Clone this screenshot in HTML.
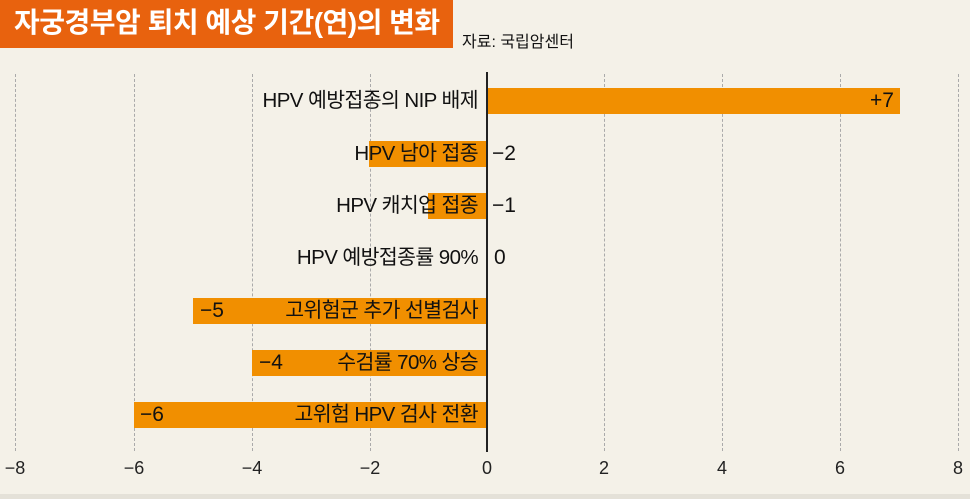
<!DOCTYPE html>
<html><head><meta charset="utf-8"><style>
body{margin:0;}
#c{position:relative;width:970px;height:499px;background:#f4f1e8;overflow:hidden;font-family:"Liberation Sans","Noto Sans CJK KR",sans-serif;color:#111;}
.t{position:absolute;left:0;top:0;width:453px;height:48px;background:#e8620e;color:#fff;font-size:28px;font-weight:bold;line-height:46px;padding-left:14px;box-sizing:border-box;letter-spacing:-0.5px;}
.src{position:absolute;left:462px;top:28px;font-size:16px;}
.g{position:absolute;top:74px;height:377px;border-left:1px dashed #aaa;}
.z{position:absolute;left:486px;top:72px;height:380px;width:2px;background:#222;}
.b{position:absolute;height:26px;background:#f18f00;}
.l{position:absolute;right:492px;font-size:20.5px;line-height:26px;white-space:nowrap;letter-spacing:-0.6px;}
.v{position:absolute;font-size:21px;line-height:26px;}
.x{position:absolute;top:458px;font-size:18px;width:40px;text-align:center;color:#222;}
.bot{position:absolute;left:0;top:494px;width:970px;height:5px;background:#e4e1d8;}
</style></head><body><div id="c">
<div class="t">자궁경부암 퇴치 예상 기간(연)의 변화</div>
<div class="src">자료: 국립암센터</div>
<div class="g" style="left:15px"></div><div class="g" style="left:134px"></div><div class="g" style="left:252px"></div><div class="g" style="left:370px"></div>
<div class="g" style="left:604px"></div><div class="g" style="left:722px"></div><div class="g" style="left:840px"></div><div class="g" style="left:958px"></div>
<div class="b" style="left:487px;width:413px;top:88px"></div>
<div class="b" style="left:369px;width:118px;top:141px"></div>
<div class="b" style="left:428px;width:59px;top:193px"></div>
<div class="b" style="left:193px;width:294px;top:298px"></div>
<div class="b" style="left:252px;width:235px;top:350px"></div>
<div class="b" style="left:134px;width:353px;top:402px"></div>
<div class="z"></div>
<div class="l" style="top:88px">HPV 예방접종의 NIP 배제</div>
<div class="l" style="top:141px">HPV 남아 접종</div>
<div class="l" style="top:193px">HPV 캐치업 접종</div>
<div class="l" style="top:245px">HPV 예방접종률 90%</div>
<div class="l" style="top:298px">고위험군 추가 선별검사</div>
<div class="l" style="top:350px">수검률 70% 상승</div>
<div class="l" style="top:402px">고위험 HPV 검사 전환</div>
<div class="v" style="left:870px;top:88px">+7</div>
<div class="v" style="left:492px;top:141px">−2</div>
<div class="v" style="left:492px;top:193px">−1</div>
<div class="v" style="left:494px;top:245px">0</div>
<div class="v" style="left:200px;top:298px">−5</div>
<div class="v" style="left:259px;top:350px">−4</div>
<div class="v" style="left:140px;top:402px">−6</div>
<div class="x" style="left:-5px">−8</div><div class="x" style="left:114px">−6</div><div class="x" style="left:232px">−4</div><div class="x" style="left:350px">−2</div>
<div class="x" style="left:467px">0</div><div class="x" style="left:584px">2</div><div class="x" style="left:702px">4</div><div class="x" style="left:820px">6</div><div class="x" style="left:938px">8</div>
<div class="bot"></div>
</div></body></html>
